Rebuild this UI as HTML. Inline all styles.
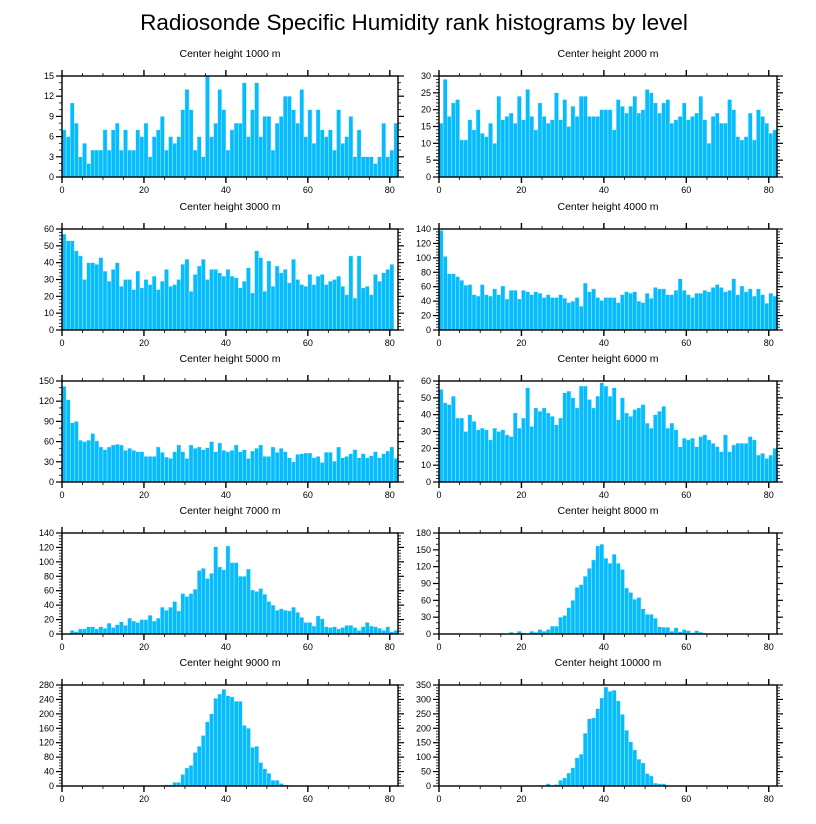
<!DOCTYPE html>
<html><head><meta charset="utf-8"><style>
html,body{margin:0;padding:0;background:#fff;}
svg{display:block;font-family:"Liberation Sans",sans-serif;}
</style></head><body>
<svg id="chart" width="816" height="824" viewBox="0 0 816 824">
<text x="414" y="30" text-anchor="middle" font-size="22.5">Radiosonde Specific Humidity rank histograms by level</text>
</svg>
<script>
const panelTitles = ["Center height 1000 m","Center height 2000 m","Center height 3000 m","Center height 4000 m","Center height 5000 m","Center height 6000 m","Center height 7000 m","Center height 8000 m","Center height 9000 m","Center height 10000 m"];
const yMax = [15,30,60,140,150,60,140,180,280,350];
const yStep = [3,5,10,20,30,10,20,30,40,50];
const xTickLabels = [0,20,40,60,80];
const h1000 = [7,6,11,8,3,5,2,4,4,4,7,4,7,8,4,7,4,4,7,6,8,3,6,7,9,4,6,5,6,10,13,10,4,6,3,15,6,8,13,10,4,7,8,8,14,6,10,14,6,9,9,4,8,9,12,12,10,8,13,6,10,5,10,7,6,7,4,10,5,6,9,3,7,3,3,3,2,3,8,3,4,8];
const h2000 = [16,29,18,22,23,11,11,17,14,20,13,12,16,10,24,17,18,19,16,24,17,26,18,14,22,18,16,17,25,17,23,15,21,18,24,24,18,18,18,20,20,20,14,23,21,19,21,24,19,20,26,25,22,19,22,23,16,17,18,22,17,18,19,24,17,10,18,19,16,16,23,20,12,11,12,19,11,20,18,16,13,14];
const h3000 = [57,53,53,47,44,30,40,40,39,43,35,29,36,40,26,30,30,24,35,25,30,27,32,24,29,36,26,27,30,39,42,23,33,38,42,30,36,36,34,32,36,32,31,25,29,37,22,47,43,23,41,26,38,34,36,28,42,30,27,26,33,27,32,33,27,29,30,32,26,21,44,19,44,25,26,21,33,29,34,36,39];
const h4000 = [138,102,78,78,74,69,62,63,49,47,63,49,47,57,49,61,43,55,55,43,55,53,49,53,51,45,49,45,45,49,44,38,40,45,33,65,53,57,45,41,45,45,45,38,49,53,51,53,40,38,51,44,59,57,57,49,49,55,71,55,49,45,51,51,55,53,59,63,59,53,55,71,49,61,53,57,47,57,49,37,51,47];
const h5000 = [142,122,88,90,62,60,62,72,61,52,48,52,55,56,55,47,50,47,45,45,38,38,38,52,44,37,35,45,55,45,35,55,50,52,48,51,60,45,58,47,45,47,55,45,48,35,46,50,55,38,38,52,44,50,45,36,30,41,42,43,43,36,38,29,44,44,31,52,36,38,42,48,36,42,36,39,45,36,42,46,52,35];
const h6000 = [55,47,46,51,38,38,30,40,36,31,32,31,25,32,30,31,28,27,41,32,38,56,33,44,42,44,41,39,34,38,53,54,50,44,57,57,49,44,51,59,57,51,56,37,50,41,39,43,44,46,35,32,40,42,45,32,35,31,21,26,25,26,21,27,28,25,23,21,18,28,18,22,23,23,23,27,25,16,17,14,16,20];
const h7000 = [0,0,5,3,7,7,10,10,7,10,8,15,9,13,17,12,22,18,16,20,20,26,18,22,37,33,37,45,32,56,52,56,62,88,91,77,84,121,93,89,122,99,99,80,80,90,61,59,63,55,45,40,33,35,33,32,37,30,23,16,16,11,25,21,10,9,10,7,9,12,12,9,5,10,16,11,10,8,5,10,3,5];
const h8000 = [0,0,0,0,0,0,0,0,0,0,0,0,0,0,0,1,0,3,1,5,2,0,5,3,8,5,8,14,14,30,33,47,60,83,88,103,117,132,157,160,135,126,142,126,115,82,74,62,65,45,35,35,28,13,12,12,5,11,4,8,6,2,6,3,1,0,0,0,0,0,0,0,0,0,0,0,0,0,0,0,0,0];
const h9000 = [0,0,0,0,0,0,0,0,0,0,0,0,0,0,0,0,0,0,0,0,0,0,0,0,2,3,3,10,10,32,50,57,93,110,140,178,200,243,255,268,250,247,235,235,168,160,107,110,65,48,35,16,16,7,3,2,1,0,0,0,1,1,0,0,0,0,0,0,0,0,0,0,0,0,0,0,0,0,0,0,0,0];
const h10000 = [0,0,0,0,0,0,0,0,0,0,0,0,0,0,0,0,0,0,0,0,0,0,0,0,2,1,8,3,5,20,28,45,63,98,110,183,233,236,268,305,343,328,332,295,248,193,153,125,93,80,43,35,10,8,8,2,1,1,1,1,0,0,0,0,0,0,0,0,0,0,0,0,0,0,0,0,0,0,0,0,0,0];
const series = [h1000,h2000,h3000,h4000,h5000,h6000,h7000,h8000,h9000,h10000];

const NS = "http://www.w3.org/2000/svg";
const svg = document.getElementById("chart");
function mk(tag, attrs, parent){
  const e = document.createElementNS(NS, tag);
  for (const k in attrs) e.setAttribute(k, attrs[k]);
  (parent||svg).appendChild(e);
  return e;
}
const colX = [62, 439], plotW = [336, 338];
const rowY = [76, 229, 381, 533, 685], plotH = 101;
const xDomain = 82;

series.forEach((data, p) => {
  const c = p % 2, r = Math.floor(p / 2);
  const x0 = colX[c], w = plotW[c], y0 = rowY[r], h = plotH;
  const xs = v => x0 + v * w / xDomain;
  const ys = v => y0 + h - v * h / yMax[p];
  const g = mk("g", {});
  
  
  const t = mk("text", {x: x0 + w / 2, y: y0 - 19, "text-anchor": "middle", "font-size": "10.5"}, g);
  t.textContent = panelTitles[p];
  
  
  const cid = "clip" + p;
  const cp = mk("clipPath", {id: cid}, g);
  mk("rect", {x: x0, y: y0, width: w, height: h}, cp);
  const bars = mk("g", {"clip-path": "url(#" + cid + ")"}, g);
  data.forEach((v, i) => {
    if (v <= 0) return;
    const b = mk("rect", {x: xs(i), y: ys(v), width: xs(i + 1) - xs(i), height: ys(0) - ys(v), fill: "#05bdfd", stroke: "#c8eeff", "stroke-width": "0.4"}, bars);
    
    
  });
  const fr = mk("rect", {x: x0, y: y0, width: w, height: h, fill: "none", stroke: "#000", "stroke-width": "1.4"}, g);
  
  
  for (let v = 0; v <= 80; v += 5) {
    const major = v % 20 === 0;
    const L = major ? 6 : 3;
    const X = xs(v);
    mk("line", {x1: X, x2: X, y1: y0 + h, y2: y0 + h + L, stroke: "#000", "stroke-width": major ? 1.4 : 0.8}, g);
    mk("line", {x1: X, x2: X, y1: y0, y2: y0 - L, stroke: "#000", "stroke-width": major ? 1.4 : 0.8}, g);
  }
  xTickLabels.forEach(v => {
    const l = mk("text", {x: xs(v), y: y0 + h + 16, "text-anchor": "middle", "font-size": "9"}, g);
    l.textContent = v;
    
    
  });
  for (let v = 0; v <= yMax[p] + 1e-9; v += yStep[p] / (yStep[p] % 3 === 0 ? 3 : 5)) {
    const Y = ys(v);
    const isMajor = Math.abs(v / yStep[p] - Math.round(v / yStep[p])) < 1e-6;
    const L = isMajor ? 6 : 3;
    mk("line", {x1: x0, x2: x0 - L, y1: Y, y2: Y, stroke: "#000", "stroke-width": isMajor ? 1.2 : 0.8}, g);
    mk("line", {x1: x0 + w, x2: x0 + w + L, y1: Y, y2: Y, stroke: "#000", "stroke-width": isMajor ? 1.2 : 0.8}, g);
  }
  for (let v = 0; v <= yMax[p]; v += yStep[p]) {
    const l = mk("text", {x: x0 - 8, y: ys(v) + 3, "text-anchor": "end", "font-size": "9"}, g);
    l.textContent = v;
    
    
  }
});
</script>
</body></html>
